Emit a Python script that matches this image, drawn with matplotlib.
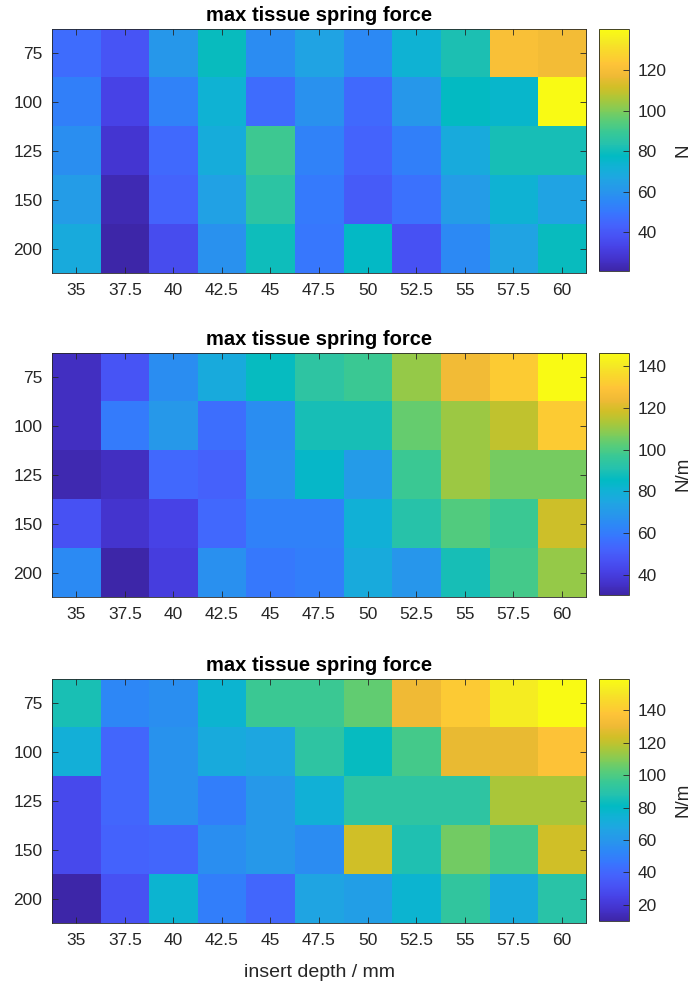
import matplotlib
matplotlib.use("Agg")
import matplotlib.pyplot as plt
import numpy as np
from matplotlib.colors import LinearSegmentedColormap

# parula-like colormap (MATLAB default), every 3rd entry of the 64 colour table
parula_pts = [
    (0.2422, 0.1504, 0.6603), (0.2647, 0.1978, 0.7952), (0.2783, 0.2559, 0.8991),
    (0.2810, 0.3228, 0.9579), (0.2699, 0.3892, 0.9906), (0.2206, 0.4603, 0.9973),
    (0.1786, 0.5289, 0.9682), (0.1540, 0.5902, 0.9218), (0.1248, 0.6459, 0.8883),
    (0.0689, 0.6948, 0.8394), (0.0067, 0.7312, 0.7660), (0.1408, 0.7584, 0.6842),
    (0.2161, 0.7843, 0.5923), (0.3406, 0.8008, 0.4789), (0.5044, 0.7993, 0.3480),
    (0.6720, 0.7793, 0.2227), (0.8203, 0.7498, 0.1535), (0.9393, 0.7288, 0.2100),
    (0.9970, 0.7659, 0.2199), (0.9786, 0.8386, 0.1766), (0.9597, 0.9135, 0.1423),
    (0.9769, 0.9839, 0.0805),
]
parula = LinearSegmentedColormap.from_list("parula", parula_pts, N=256)

depths = ["35", "37.5", "40", "42.5", "45", "47.5", "50", "52.5", "55", "57.5", "60"]
rows = ["75", "100", "125", "150", "200"]

force_N = [
    [47, 39, 61, 79, 57, 66, 56, 73, 82, 121, 119],
    [53, 33, 54, 73, 47, 59, 46, 61, 78, 75, 140],
    [58, 28, 46, 70, 90, 54, 44, 53, 69, 81, 81],
    [63, 23, 44, 65, 86, 51, 41, 48, 63, 73, 66],
    [69, 21, 36, 59, 80, 50, 77, 38, 56, 66, 79],
]
stiff_a = [
    [35, 48, 66, 77, 86, 94, 97, 110, 125, 132, 146],
    [35, 60, 70, 56, 66, 89, 89, 104, 111, 116, 132],
    [32, 35, 54, 52, 67, 84, 71, 97, 111, 106, 106],
    [47, 37, 42, 54, 62, 62, 80, 92, 101, 97, 118],
    [65, 30.5, 40, 67, 59, 61, 77, 69, 89, 99, 110],
]
stiff_b = [
    [86, 53, 56, 76, 96, 96, 104, 131, 140, 153, 159],
    [73, 40, 58, 70, 68, 92, 82, 98, 129, 129, 137],
    [28, 40, 58, 49, 61, 74, 92, 92, 92, 116, 116],
    [28, 38, 40, 56, 61, 55, 123, 87, 107, 98, 123],
    [10, 31, 76, 49, 40, 67, 64, 76, 93, 70, 90],
]

panels = [
    (force_N, "N", [40, 60, 80, 100, 120]),
    (stiff_a, "N/m", [40, 60, 80, 100, 120, 140]),
    (stiff_b, "N/m", [20, 40, 60, 80, 100, 120, 140]),
]

plt.rcParams['font.family'] = ['Liberation Sans', 'DejaVu Sans']
txt = (0.15, 0.15, 0.15)

fig = plt.figure(figsize=(6.91, 9.84), dpi=100)
bottoms = [0.7226, 0.3933, 0.062]

for (data, unit, cticks), b in zip(panels, bottoms):
    ax = fig.add_axes([0.0753, b, 0.7728, 0.248])
    cax = fig.add_axes([0.8669, b + 0.002, 0.0434, 0.2455])
    arr = np.array(data, dtype=float)
    im = ax.imshow(arr, cmap=parula, aspect='auto', interpolation='nearest')
    ax.set_xticks(range(len(depths)))
    ax.set_xticklabels(depths)
    ax.set_yticks(range(len(rows)))
    ax.set_yticklabels(rows)
    ax.tick_params(direction='in', length=4, width=0.6, top=True, right=True,
                   labelsize=12.5, colors=txt, pad=7)
    for s in ax.spines.values():
        s.set_color(txt)
        s.set_linewidth(0.6)
    ax.set_title("max tissue spring force", fontsize=14.5, fontweight='bold',
                 color='black', pad=6)

    cb = fig.colorbar(im, cax=cax)
    cb.set_ticks(cticks)
    cb.ax.tick_params(direction='in', length=4, width=0.6, labelsize=12.5,
                      colors=txt, pad=6)
    cb.outline.set_edgecolor(txt)
    cb.outline.set_linewidth(0.6)
    cb.set_label(unit, fontsize=13.5, color=txt, labelpad=6)

ax.set_xlabel("insert depth / mm", fontsize=14, color=txt, labelpad=12)

fig.savefig("out.png", dpi=100)
